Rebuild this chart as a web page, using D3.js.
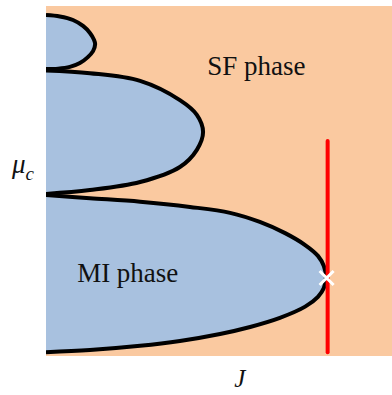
<!DOCTYPE html>
<html>
<head>
<meta charset="utf-8">
<script src="https://cdn.jsdelivr.net/npm/d3@7"></script>
<style>
  html, body { margin: 0; padding: 0; background: #fff; }
  svg { display: block; }
  text { font-family: "Liberation Serif", "DejaVu Serif", serif; fill: #111; }
</style>
</head>
<body>
<div id="chart"></div>
<script>
// Mott lobes, [J, mu] in plot units (0..1 across each axis)
const lobe1 = [[0, 0.460], [0.127, 0.451], [0.272, 0.441], [0.416, 0.426], [0.532, 0.409], [0.618, 0.383],
  [0.691, 0.351], [0.749, 0.317], [0.786, 0.286], [0.803, 0.257], [0.809, 0.226], [0.803, 0.194],
  [0.786, 0.169], [0.749, 0.141], [0.676, 0.109], [0.590, 0.083], [0.503, 0.063], [0.387, 0.043],
  [0.272, 0.029], [0.127, 0.017], [0, 0.011]];
const lobe2 = [[0, 0.816], [0.127, 0.808], [0.272, 0.786], [0.387, 0.731], [0.436, 0.689], [0.454, 0.640],
  [0.436, 0.589], [0.387, 0.540], [0.272, 0.497], [0.127, 0.474], [0, 0.463]];
const lobe3 = [[0, 0.974], [0.040, 0.970], [0.078, 0.960], [0.107, 0.943], [0.127, 0.923], [0.139, 0.903],
  [0.142, 0.891], [0.136, 0.871], [0.121, 0.854], [0.098, 0.837], [0.069, 0.826], [0.035, 0.821], [0, 0.820]];
const lobes = [lobe1, lobe2, lobe3];
const cutJ = 0.814;            // red vertical cut
const cutMu = [0.011, 0.614];
const crossPt = [0.811, 0.223]; // white marker at the lobe tip
const labels = [
  { text: "SF phase", J: 0.466, mu: 0.803 },
  { text: "MI phase", J: 0.090, mu: 0.212 }
];

const W = 392, H = 395;
const m = { left: 46, right: 0, top: 6, bottom: 39 };

const svg = d3.select('#chart').append('svg').attr('width', W).attr('height', H);

const x = d3.scaleLinear().domain([0, 1]).range([m.left, W - m.right]);
const y = d3.scaleLinear().domain([0, 1]).range([H - m.bottom, m.top]);

svg.append('clipPath').attr('id', 'plot')
  .append('rect').attr('x', m.left).attr('y', m.top)
  .attr('width', W - m.left - m.right).attr('height', H - m.top - m.bottom);

svg.append('rect').attr('x', m.left).attr('y', m.top)
  .attr('width', W - m.left - m.right).attr('height', H - m.top - m.bottom)
  .attr('fill', '#fac9a0');

const g = svg.append('g').attr('clip-path', 'url(#plot)');

const line = d3.line().x(d => x(d[0])).y(d => y(d[1])).curve(d3.curveCatmullRom.alpha(0.5));

g.selectAll('path.lobe').data(lobes).join('path')
  .attr('class', 'lobe')
  .attr('d', line)
  .attr('fill', '#a8c1df')
  .attr('stroke', '#000')
  .attr('stroke-width', 4);

g.append('line')
  .attr('x1', x(cutJ)).attr('x2', x(cutJ))
  .attr('y1', y(cutMu[0])).attr('y2', y(cutMu[1]))
  .attr('stroke', '#ff0000').attr('stroke-width', 4).attr('stroke-linecap', 'round');

const cx = x(crossPt[0]), cy = y(crossPt[1]), s = 7;
g.append('path')
  .attr('d', `M${cx - s},${cy - s}L${cx + s},${cy + s}M${cx - s},${cy + s}L${cx + s},${cy - s}`)
  .attr('stroke', '#fff').attr('stroke-width', 3);

svg.selectAll('text.lbl').data(labels).join('text')
  .attr('class', 'lbl')
  .attr('x', d => x(d.J)).attr('y', d => y(d.mu))
  .style('font-size', '27px')
  .text(d => d.text);

// axis titles
const muLbl = svg.append('text').attr('x', 12).attr('y', 173)
  .style('font-size', '27px').style('font-style', 'italic');
muLbl.append('tspan').text('μ');
muLbl.append('tspan').attr('dy', 7).style('font-size', '19px').text('c');

svg.append('text').attr('x', x(0.56)).attr('y', 387)
  .attr('text-anchor', 'middle')
  .style('font-size', '25px').style('font-style', 'italic')
  .text('J');
</script>
</body>
</html>
